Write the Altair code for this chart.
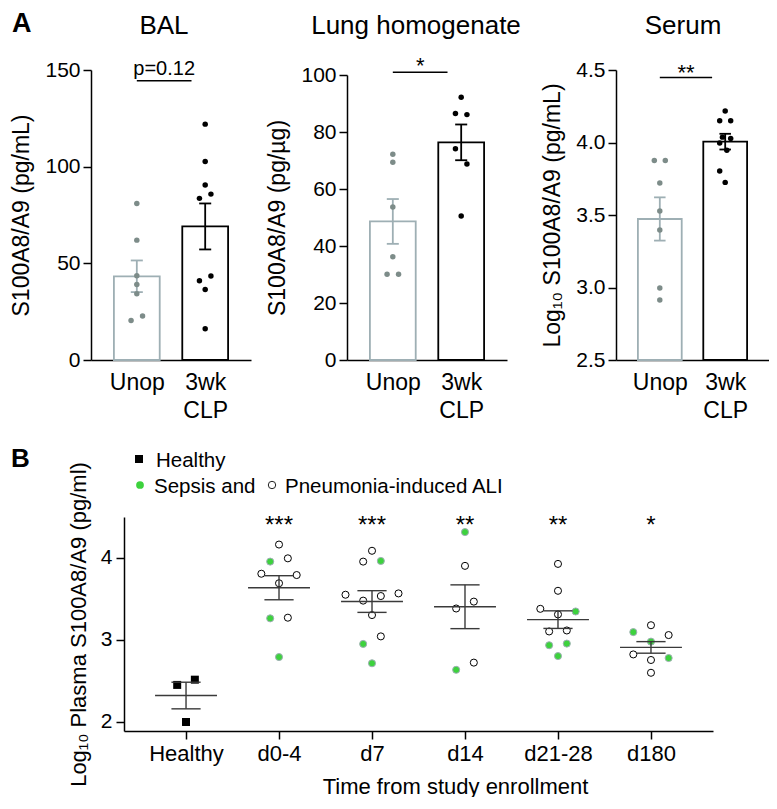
import json
import altair as alt
import pandas as pd

FONT = "Liberation Sans"
UNOP_LINE = "#9eafb4"
UNOP_DOT = "#7d8c89"
GREEN = "#3dd23d"
GREEN_EDGE = "#2a9a2a"

# ---------------- Panel A data ----------------
groups_a = ["Unop", "3wk CLP"]
panel_titles = ["BAL", "Lung homogenate", "Serum"]

bal_unop = [81.0, 62.0, 43.6, 39.0, 34.3, 22.8, 20.4]
bal_unop_col = [0, 0, 0, 0, 0, 1, -1]
bal_clp = [122.0, 102.7, 90.5, 85.8, 83.6, 43.4, 41.0, 36.5, 16.2]
bal_clp_col = [0, 0, 0, 1, -1, 1, -1, 0, 0]

lung_unop = [72.2, 69.4, 53.7, 36.2, 30.1, 30.1]
lung_unop_col = [0, 0, 0, 0, -1, 1]
lung_clp = [92.2, 86.5, 86.1, 74.1, 68.8, 50.5]
lung_clp_col = [0, -1, 1, -1, 1, 0]

serum_unop = [3.876, 3.876, 3.72, 3.528, 3.397, 2.997, 2.914]
serum_unop_col = [-1, 1, 0, 0, 0, 0, 0]
serum_clp = [4.217, 4.15, 4.15, 4.037, 4.028, 3.996, 3.946, 3.804, 3.725]
serum_clp_col = [0, -1, 1, -0.5, 1, -1, 0.3, -1, 0]

bal_ticks = [0, 50, 100, 150]
lung_ticks = [0, 20, 40, 60, 80, 100]
serum_ticks = [2.5, 3.0, 3.5, 4.0, 4.5]

sig_labels_a = ["p=0.12", "*", "**"]
sig_heights_a = [144.4, 101.0, 4.448]

# ---------------- Panel B data ----------------
b_categories = ["Healthy", "d0-4", "d7", "d14", "d21-28", "d180"]
b_stars = ["", "***", "***", "**", "**", "*"]

healthy_vals = [2.452, 2.516, 2.0]
healthy_col = [-1, 1, 0]
healthy_type = ["H", "H", "H"]

d0_4_vals = [4.164, 3.956, 3.996, 3.808, 3.792, 3.692, 3.264, 3.272, 2.792]
d0_4_col = [0, -1, 1, -2, 2, 0, -1, 1, 0]
d0_4_type = ["P", "S", "P", "P", "P", "P", "S", "P", "S"]

d7_vals = [4.088, 3.956, 3.964, 3.552, 3.48, 3.536, 3.568, 3.304, 3.044, 2.952, 2.716]
d7_col = [0, -1, 1, -3, -1, 1, 3, 0, 1, -1, 0]
d7_type = ["P", "P", "S", "P", "P", "P", "P", "P", "P", "S", "S"]

d14_vals = [4.316, 3.904, 3.384, 3.468, 2.724, 2.636]
d14_col = [0, 0, -1, 1, 1, -1]
d14_type = ["S", "P", "P", "P", "P", "S"]

d21_28_vals = [3.928, 3.6, 3.38, 3.312, 3.348, 3.104, 3.116, 2.936, 2.956, 2.804]
d21_28_col = [0, 0, -2, 0, 2, -1, 1, -1, 1, 0]
d21_28_type = ["P", "P", "P", "P", "S", "P", "P", "S", "S", "S"]

d180_vals = [3.18, 3.096, 3.06, 2.98, 2.824, 2.78, 2.756, 2.6]
d180_col = [0, -2, 2, 0, -2, 2, 0, 0]
d180_type = ["P", "S", "P", "S", "P", "S", "P", "P"]

type_names = {"H": "Healthy", "S": "Sepsis and", "P": "Pneumonia-induced ALI"}
legend_labels = ["Healthy", "Sepsis and", "Pneumonia-induced ALI"]


def label_layer(text, x, y, size, weight="normal", align="left"):
    return alt.Chart(pd.DataFrame({"t": [text]})).mark_text(
        fontSize=size, fontWeight=weight, align=align, baseline="alphabetic", color="black"
    ).encode(x=alt.value(x), y=alt.value(y), text="t:N")


def bar_panel(title, unop, unop_col, clp, clp_col, ydom, yticks, yfmt, ytitle,
              sig, sig_y, width, height, top_gap, title_x, sig_dy, sig_size, extra=None):
    rows = []
    for v, c in zip(unop, unop_col):
        rows.append({"grp": "Unop", "pos": 0, "val": v, "col": c})
    for v, c in zip(clp, clp_col):
        rows.append({"grp": "3wk CLP", "pos": 1, "val": v, "col": c})
    df = pd.DataFrame(rows)

    xsc = alt.Scale(domain=[-0.67, 1.67], nice=False, zero=False)
    ysc = alt.Scale(domain=ydom, nice=False, zero=False, range=[height, top_gap])
    xaxis = alt.Axis(values=[0, 1],
                     labelExpr="datum.value == 0 ? 'Unop' : ['3wk', 'CLP']",
                     ticks=False, title=None, labelFontSize=23, labelPadding=11,
                     labelBaseline="top", labelLineHeight=28, labelAngle=0)
    yaxis = alt.Axis(values=yticks, format=yfmt, title=ytitle, tickSize=8,
                     labelFontSize=21, titleFontSize=23, labelPadding=3,
                     titlePadding=11)
    stroke_sc = alt.Scale(domain=groups_a, range=[UNOP_LINE, "black"])
    dot_sc = alt.Scale(domain=groups_a, range=[UNOP_DOT, "black"])

    base = alt.Chart(df)
    stats = base.transform_aggregate(
        mean="mean(val)", sd="stdev(val)", n="count()", groupby=["grp", "pos"]
    ).transform_calculate(
        lo="datum.mean - datum.sd / sqrt(datum.n)",
        hi="datum.mean + datum.sd / sqrt(datum.n)",
        left="datum.pos - 0.335",
        right="datum.pos + 0.335",
        cl="datum.pos - 0.088",
        cr="datum.pos + 0.088",
        floor=str(ydom[0]),
    )
    stroke = alt.Stroke("grp:N", scale=stroke_sc, legend=None)
    bars = stats.mark_rect(fill="white", strokeWidth=1.8).encode(
        x=alt.X("left:Q", scale=xsc, axis=xaxis),
        x2="right:Q",
        y=alt.Y("mean:Q", scale=ysc, axis=yaxis),
        y2="floor:Q",
        stroke=stroke,
    )
    errv = stats.mark_rule(strokeWidth=1.8).encode(x="pos:Q", y="lo:Q", y2="hi:Q", stroke=stroke)
    cap_hi = stats.mark_rule(strokeWidth=1.8).encode(x="cl:Q", x2="cr:Q", y="hi:Q", stroke=stroke)
    cap_lo = stats.mark_rule(strokeWidth=1.8).encode(x="cl:Q", x2="cr:Q", y="lo:Q", stroke=stroke)
    dots = base.transform_calculate(xp="datum.pos + datum.col * 0.084").mark_circle(
        size=30, opacity=1
    ).encode(x="xp:Q", y="val:Q", color=alt.Color("grp:N", scale=dot_sc, legend=None))

    sigdf = pd.DataFrame({"x0": [0.0], "x1": [0.8], "y": [sig_y], "label": [sig]})
    sig_rule = alt.Chart(sigdf).mark_rule(strokeWidth=1.5, color="black").encode(
        x="x0:Q", x2="x1:Q", y="y:Q")
    sig_text = alt.Chart(sigdf).transform_calculate(xm="(datum.x0 + datum.x1) / 2").mark_text(
        fontSize=sig_size, baseline="alphabetic", dy=sig_dy, color="black"
    ).encode(x="xm:Q", y="y:Q", text="label:N")

    title_layer = label_layer(title, title_x, -36, 26, align="center")
    layers = [bars, errv, cap_hi, cap_lo, dots, sig_rule, sig_text, title_layer]
    if extra is not None:
        layers.append(extra)
    return alt.layer(*layers).properties(width=width, height=height)


A_H = 290
bal = bar_panel(panel_titles[0], bal_unop, bal_unop_col, bal_clp, bal_clp_col, [0, 150], bal_ticks,
                "d", "S100A8/A9 (pg/mL)", sig_labels_a[0], sig_heights_a[0], 160, A_H, 0, 73,
                -6, 20, extra=label_layer("A", -79, -38, 27, weight="bold"))
lung = bar_panel(panel_titles[1], lung_unop, lung_unop_col, lung_clp, lung_clp_col, [0, 100],
                 lung_ticks, "d", "S100A8/A9 (pg/µg)", sig_labels_a[1], sig_heights_a[1],
                 160, A_H, 5, 69, 1, 22)
serum = bar_panel(panel_titles[2], serum_unop, serum_unop_col, serum_clp, serum_clp_col, [2.5, 4.5],
                  serum_ticks, ".1f", "Log₁₀ S100A8/A9 (pg/mL)", sig_labels_a[2], sig_heights_a[2],
                  153, A_H, 0, 67, 2, 22)

# ---------------- Panel B ----------------
rows_b = []
all_groups = [
    (healthy_vals, healthy_col, healthy_type),
    (d0_4_vals, d0_4_col, d0_4_type),
    (d7_vals, d7_col, d7_type),
    (d14_vals, d14_col, d14_type),
    (d21_28_vals, d21_28_col, d21_28_type),
    (d180_vals, d180_col, d180_type),
]
for idx, (vals, cols, types) in enumerate(all_groups):
    for v, c, t in zip(vals, cols, types):
        rows_b.append({"idx": idx, "val": v, "col": c, "type": type_names[t]})
df_b = pd.DataFrame(rows_b)
stars_df = pd.DataFrame({"idx": list(range(len(b_categories))), "star": b_stars})

B_W = 589          # plot width
B_H = 214          # plot height
B_SHIFT = 33       # plot starts this far right of the panel origin
xsc_b = alt.Scale(domain=[-0.667, 5.667], nice=False, zero=False, range=[B_SHIFT, B_SHIFT + B_W])
ysc_b = alt.Scale(domain=[1.89, 4.5], nice=False, zero=False)
xaxis_b = alt.Axis(values=list(range(len(b_categories))),
                   labelExpr=json.dumps(b_categories) + "[datum.value]",
                   title="Time from study enrollment", tickSize=8, labelFontSize=22,
                   titleFontSize=22, labelPadding=4, titlePadding=12, labelAngle=0,
                   titleX=B_SHIFT + 331)
yaxis_b = alt.Axis(values=[2, 3, 4], format="d", title="Log₁₀ Plasma S100A8/A9 (pg/ml)",
                   tickSize=8, labelFontSize=21, titleFontSize=22, labelPadding=4,
                   titlePadding=10, offset=-B_SHIFT)

base_b = alt.Chart(df_b)
stats_b = base_b.transform_aggregate(
    mean="mean(val)", sd="stdev(val)", n="count()", groupby=["idx"]
).transform_calculate(
    lo="datum.mean - datum.sd / sqrt(datum.n)",
    hi="datum.mean + datum.sd / sqrt(datum.n)",
    ml="datum.idx - 0.333",
    mr="datum.idx + 0.333",
    cl="datum.idx - 0.157",
    cr="datum.idx + 0.157",
)
LINE = "#3a3a3a"
mean_line = stats_b.mark_rule(strokeWidth=1.4, color=LINE).encode(
    x=alt.X("ml:Q", scale=xsc_b, axis=xaxis_b), x2="mr:Q",
    y=alt.Y("mean:Q", scale=ysc_b, axis=yaxis_b))
err_b = stats_b.mark_rule(strokeWidth=1.4, color=LINE).encode(x="idx:Q", y="lo:Q", y2="hi:Q")
cap_hi_b = stats_b.mark_rule(strokeWidth=1.4, color=LINE).encode(x="cl:Q", x2="cr:Q", y="hi:Q")
cap_lo_b = stats_b.mark_rule(strokeWidth=1.4, color=LINE).encode(x="cl:Q", x2="cr:Q", y="lo:Q")

healthy_pts = base_b.transform_filter("datum.type == 'Healthy'").transform_calculate(
    xp="datum.idx + datum.col * 0.095"
).mark_square(size=64, opacity=1, color="black").encode(x="xp:Q", y="val:Q")

type_dom = ["Sepsis and", "Pneumonia-induced ALI"]
patient_pts = base_b.transform_filter("datum.type != 'Healthy'").transform_calculate(
    xp="datum.idx + datum.col * 0.095"
).mark_circle(size=50, opacity=1, strokeWidth=1).encode(
    x="xp:Q", y="val:Q",
    fill=alt.Fill("type:N", scale=alt.Scale(domain=type_dom, range=[GREEN, "white"]), legend=None),
    stroke=alt.Stroke("type:N", scale=alt.Scale(domain=type_dom, range=[GREEN_EDGE, "#222222"]),
                      legend=None),
)
stars = alt.Chart(stars_df).transform_calculate(ys="4.3").mark_text(
    fontSize=24, baseline="alphabetic", color="black"
).encode(x="idx:Q", y="ys:Q", text="star:N")

# legend drawn as symbols + labels above the plot
leg_sq = alt.Chart(pd.DataFrame({"t": [legend_labels[0]]})).mark_square(
    size=64, color="black", opacity=1).encode(x=alt.value(B_SHIFT + 15), y=alt.value(-58))
leg_g = alt.Chart(pd.DataFrame({"t": [legend_labels[1]]})).mark_circle(
    size=60, color=GREEN, opacity=1).encode(x=alt.value(B_SHIFT + 16), y=alt.value(-32))
leg_o = alt.Chart(pd.DataFrame({"t": [legend_labels[2]]})).mark_circle(
    size=55, fill="white", stroke="#222222", strokeWidth=1, opacity=1).encode(
    x=alt.value(B_SHIFT + 148), y=alt.value(-32))
leg_t1 = label_layer(legend_labels[0], B_SHIFT + 32, -50, 20.5)
leg_t2 = label_layer(legend_labels[1], B_SHIFT + 30, -24, 20.5)
leg_t3 = label_layer(legend_labels[2], B_SHIFT + 161, -24, 20.5)
b_label = label_layer("B", -80, -50, 26, weight="bold")

panel_b = alt.layer(healthy_pts, patient_pts, mean_line, err_b, cap_hi_b, cap_lo_b, stars,
                    leg_sq, leg_g, leg_o, leg_t1, leg_t2, leg_t3, b_label).properties(
    width=B_SHIFT + B_W, height=B_H)

row_a = alt.concat(
    alt.concat(bal, lung, columns=2, spacing=15, align="none"),
    serum, columns=2, spacing=20, align="none",
)

chart = alt.concat(row_a, panel_b, columns=1, spacing=24, align="none").properties(
    padding={"left": 2, "top": 2, "right": 0, "bottom": 0}
).configure_view(strokeWidth=0).configure_axis(
    domainColor="black", tickColor="black", labelColor="black", titleColor="black",
    labelFont=FONT, titleFont=FONT, grid=False, domainWidth=1.5, tickWidth=1.5,
    titleFontWeight="normal",
).configure_text(font=FONT)

chart.save("out.html", embed_options={"renderer": "svg", "actions": False})
